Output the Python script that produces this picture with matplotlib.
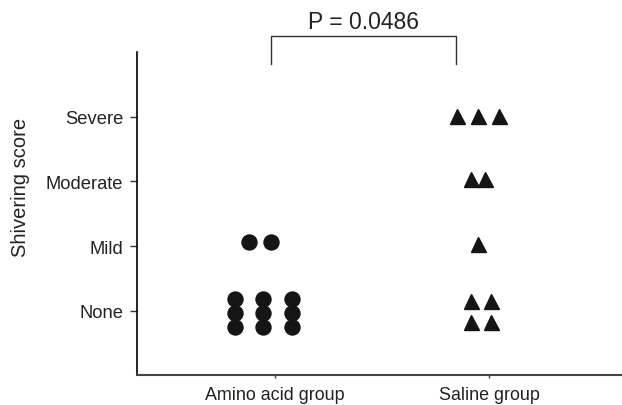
import numpy as np
import matplotlib.pyplot as plt

plt.rcParams['font.family'] = ['Liberation Sans', 'DejaVu Sans']

groups = ['Amino acid group', 'Saline group']
score_labels = ['None', 'Mild', 'Moderate', 'Severe']

# amino acid group: score of each patient, with the jitter seen in the plot
amino_score = [0, 0, 0, 0, 0, 0, 0, 0, 0, 1, 1]
amino_dx = [-0.187, -0.056, 0.079, -0.187, -0.056, 0.079, -0.187, -0.056, 0.079, -0.121, -0.019]
amino_dy = [0.186, 0.186, 0.186, -0.031, -0.031, -0.031, -0.247, -0.247, -0.247, 0.067, 0.067]

# saline group
saline_score = [0, 0, 0, 0, 1, 2, 2, 3, 3, 3]
saline_dx = [-0.084, 0.009, -0.084, 0.009, -0.051, -0.084, -0.019, -0.150, -0.051, 0.047]
saline_dy = [0.155, 0.155, -0.170, -0.170, 0.04, 0.04, 0.04, 0.015, 0.015, 0.015]

p_text = 'P = 0.0486'

fig = plt.figure(figsize=(6.22, 4.06), dpi=100)
ax = fig.add_axes([0.2203, 0.0739, 0.7797, 0.7956])

col = '#151515'
ax.plot(1 + np.array(amino_dx), np.array(amino_score) + np.array(amino_dy),
        'o', color=col, markersize=10.8, linestyle='none', clip_on=False)
ax.plot(2 + np.array(saline_dx), np.array(saline_score) + np.array(saline_dy),
        '^', color=col, markersize=10.8, linestyle='none', clip_on=False)

ax.set_xlim(0.355, 2.621)
ax.set_ylim(-0.99, 4.0)
ax.set_xticks([1, 2])
ax.set_xticklabels(groups, fontsize=12.9, color='#222222')
ax.set_yticks(range(4))
ax.set_yticklabels(score_labels, fontsize=13.2, color='#222222')
ax.set_ylabel('Shivering score', fontsize=14.5, color='#222222')
ax.yaxis.set_label_coords(-0.221, 0.585)

for s in ['top', 'right']:
    ax.spines[s].set_visible(False)
ax.spines['left'].set_color('black')
ax.spines['left'].set_linewidth(1.2)
ax.spines['bottom'].set_color('#444444')
ax.spines['bottom'].set_linewidth(1.5)
ax.tick_params(axis='y', length=5, width=1, pad=5, color='#333333')
ax.tick_params(axis='x', length=2, width=1, pad=6, color='#444444')

# significance bracket
ax.plot([0.981, 0.981, 1.846, 1.846], [3.82, 4.25, 4.25, 3.82],
        color='#333333', lw=1, clip_on=False)
ax.text(1.413, 4.376, p_text, ha='center', va='baseline', fontsize=16.5,
        color='#222222')

fig.savefig('out.png', dpi=100)
